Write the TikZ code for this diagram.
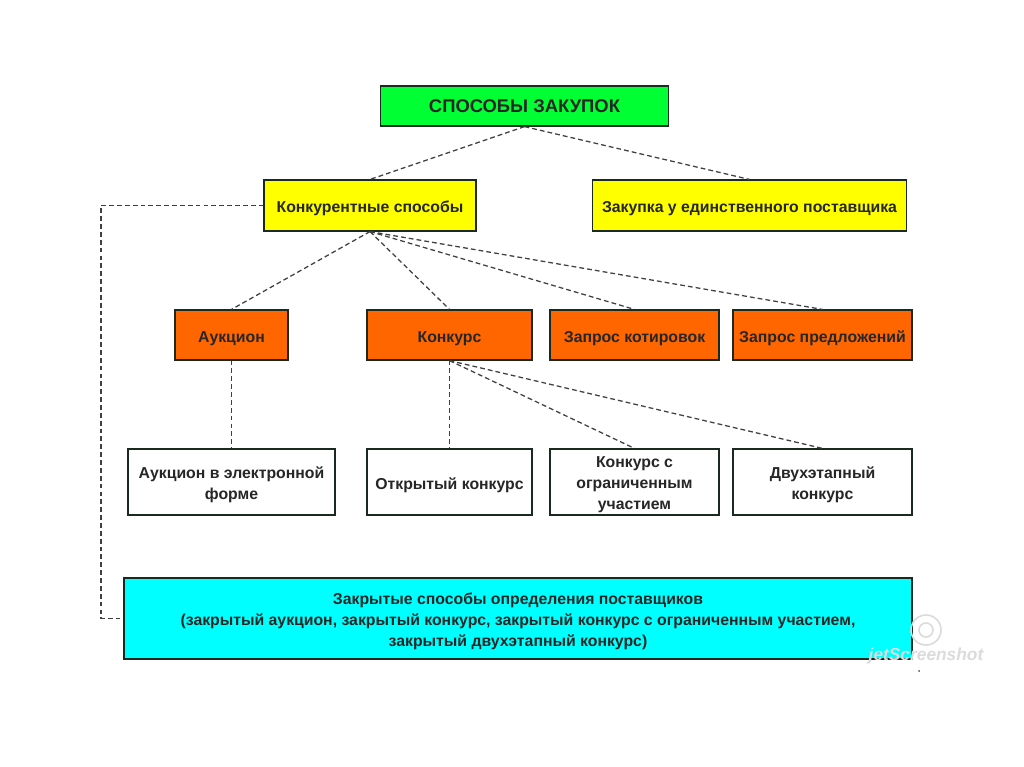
\documentclass[tikz,border=0pt]{standalone}
\usepackage{fontspec}
\setmainfont{Liberation Sans}
\definecolor{grn}{HTML}{00FF33}
\definecolor{yel}{HTML}{FFFF00}
\definecolor{org}{HTML}{FF6600}
\definecolor{cya}{HTML}{00FFFF}
\definecolor{ink}{HTML}{1A2A1E}
\newcommand{\padtop}{\rule{0pt}{12.5pt}}
\tikzset{
 box/.style={draw=ink,line width=0.9pt,align=center,font=\bfseries\fontsize{11.85}{15.9}\selectfont,text=black!85,inner sep=0pt,anchor=center},
 oneline/.style={text height=10.5pt,text depth=0pt},
 link/.style={draw=black!75,line width=0.95pt,dash pattern=on 3.6pt off 2.3pt},
 mark1/.style={box,oneline,fill=grn,minimum width=215.5pt,minimum height=30pt},
 mark2/.style={box,oneline,fill=yel,minimum height=38.2pt},
 mark3/.style={box,oneline,fill=org,minimum height=37.5pt},
 mark4/.style={box,fill=white,minimum height=49.5pt},
}
\begin{document}
\begin{tikzpicture}[x=0.75pt,y=-0.75pt]
\useasboundingbox (0,0) rectangle (1024,767);
\fill[white] (0,0) rectangle (1024,767);
\node[mark1,font=\bfseries\fontsize{13.8}{15}\selectfont] (top) at (524.5,106) {СПОСОБЫ ЗАКУПОК};
\node[mark2,minimum width=159pt] (conc) at (370,205.5) {Конкурентные способы};
\node[mark2,minimum width=236pt] (single) at (749.5,205.5) {Закупка у единственного поставщика};
\node[mark3,minimum width=84.7pt] (auc) at (231.5,335) {Аукцион};
\node[mark3,minimum width=123.7pt] (kon) at (449.5,335) {Конкурс};
\node[mark3,minimum width=126.7pt] (zk) at (634.5,335) {Запрос котировок};
\node[mark3,minimum width=134.2pt] (zp) at (822.5,335) {Запрос предложений};
\node[mark4,minimum width=155.2pt] (w1) at (231.5,482) {\padtop Аукцион в электронной\\форме};
\node[mark4,oneline,minimum width=123.7pt] (w2) at (449.5,482) {Открытый конкурс};
\node[mark4,minimum width=126.7pt] (w3) at (634.5,482) {\padtop Конкурс с\\ограниченным\\участием};
\node[mark4,minimum width=134.2pt] (w4) at (822.5,482) {\padtop Двухэтапный\\конкурс};
\node[box,fill=cya,minimum width=591pt,minimum height=60.7pt] (cl) at (518,618.5) {\padtop Закрытые способы определения поставщиков\\(закрытый аукцион, закрытый конкурс, закрытый конкурс с ограниченным участием,\\закрытый двухэтапный конкурс)};
\coordinate (c1) at (101,205.5);
\coordinate (c2) at (101,618.5);
\draw[link] (top.south) -- (conc.north);
\draw[link] (top.south) -- (single.north);
\draw[link] (conc.south) -- (auc.north);
\draw[link] (conc.south) -- (kon.north);
\draw[link] (conc.south) -- (zk.north);
\draw[link] (conc.south) -- (zp.north);
\draw[link] (auc.south) -- (w1.north);
\draw[link] (kon.south) -- (w2.north);
\draw[link] (kon.south) -- (w3.north);
\draw[link] (kon.south) -- (w4.north);
\draw[link] (conc.west) -- (c1) -- (c2) -- (cl.west);
\node[text=black!14,font=\itshape\bfseries\fontsize{13}{13}\selectfont,inner sep=0pt] (wm) at (926,656) {jetScreenshot};
\draw[black!14,line width=1.2pt] (926,630) circle[radius=15] (926,630) circle[radius=7];
\fill[black!70] (919,671) circle[radius=1];
\end{tikzpicture}
\end{document}
